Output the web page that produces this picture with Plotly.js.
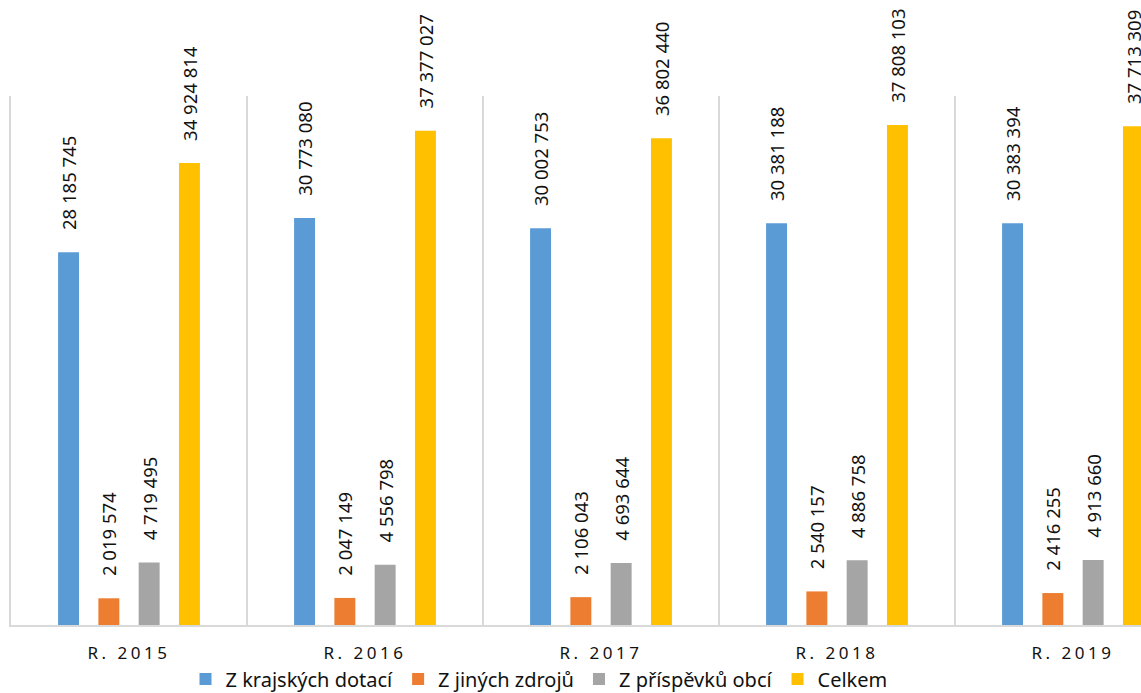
<!DOCTYPE html>
<html>
<head>
<meta charset="utf-8">
<script src="https://cdn.plot.ly/plotly-3.0.1.min.js"></script>
<style>
html,body{margin:0;padding:0;overflow:hidden;background:#fff;}
#chart{width:1200px;height:693px;}
.xtick text{letter-spacing:3.5px;}
</style>
</head>
<body>
<div id="chart"></div>
<script>
const categories = ["R. 2015", "R. 2016", "R. 2017", "R. 2018", "R. 2019"];
const seriesNames = ["Z krajských dotací", "Z jiných zdrojů", "Z příspěvků obcí", "Celkem"];
const krajskeDotace = [28185745, 30773080, 30002753, 30381188, 30383394];
const jineZdroje = [2019574, 2047149, 2106043, 2540157, 2416255];
const prispevkyObci = [4719495, 4556798, 4693644, 4886758, 4913660];
const celkem = [34924814, 37377027, 36802440, 37808103, 37713309];
const colors = ["#5B9BD5", "#ED7D31", "#A5A5A5", "#FFC000"];

function fmt(v) {
  return "\u00a0\u00a0\u00a0\u00a0" + String(v).replace(/\B(?=(\d{3})+(?!\d))/g, " ");
}

const allSeries = [krajskeDotace, jineZdroje, prispevkyObci, celkem];
const traces = allSeries.map((vals, i) => ({
  type: "bar",
  name: seriesNames[i],
  x: categories,
  y: vals,
  marker: {color: colors[i]},
  text: vals.map(fmt),
  textposition: "outside",
  textangle: -90,
  constraintext: "none",
  cliponaxis: false,
  textfont: {family: "Noto Sans", size: 18.5, color: "#111"},
  hoverinfo: "none"
}));

const layout = {
  width: 1200,
  height: 693,
  margin: {l: 11, r: 9, t: 95.6, b: 68, autoexpand: false},
  paper_bgcolor: "#fff",
  plot_bgcolor: "#fff",
  barmode: "group",
  bargap: 0.317,
  bargroupgap: 0.48,
  showlegend: true,
  legend: {
    orientation: "h",
    xref: "container",
    yref: "container",
    x: 539 / 1200,
    xanchor: "center",
    y: 1 - 679 / 693,
    yanchor: "middle",
    font: {family: "Noto Sans", size: 20, color: "#111"},
    traceorder: "normal"
  },
  xaxis: {
    type: "category",
    tickson: "boundaries",
    showgrid: true,
    gridcolor: "#d9d9d9",
    gridwidth: 2,
    showline: true,
    linecolor: "#d9d9d9",
    linewidth: 2,
    ticks: "",
    ticklabelstandoff: 12,
    automargin: false,
    tickfont: {family: "Noto Sans", size: 17, color: "#111"},
    range: [-0.5, 4.5],
    zeroline: false
  },
  yaxis: {
    range: [0, 40000000],
    showgrid: false,
    zeroline: false,
    showticklabels: false,
    automargin: false,
    ticks: "",
    showline: true,
    linecolor: "#d9d9d9",
    linewidth: 2
  }
};

Plotly.newPlot("chart", traces, layout, {displayModeBar: false, staticPlot: true});
</script>
</body>
</html>
